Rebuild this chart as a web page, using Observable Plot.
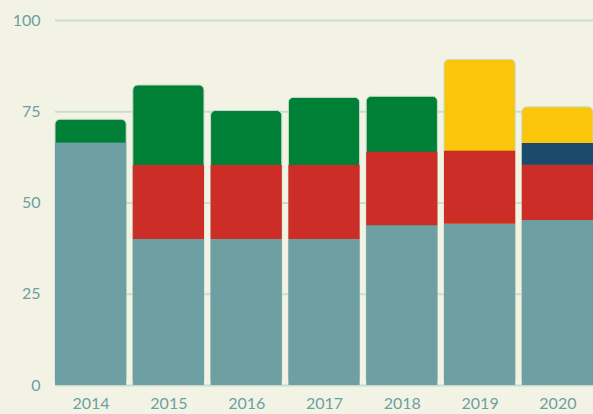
<!DOCTYPE html>
<html>
<head>
<meta charset="utf-8">
<script src="https://cdn.jsdelivr.net/npm/d3@7"></script>
<script src="https://cdn.jsdelivr.net/npm/@observablehq/plot@0.6"></script>
<style>
  html, body { margin: 0; padding: 0; background: #f3f3e5; }
  #chart svg { display: block; }
</style>
</head>
<body>
<div id="chart"></div>
<script>
const years = ["2014", "2015", "2016", "2017", "2018", "2019", "2020"];
const seriesNames = ["Series A", "Series B", "Series C", "Series D", "Series E"];
const seriesA = [66.4, 40, 40, 40, 43.8, 44.2, 45.2];
const seriesB = [0, 20.3, 20.3, 20.3, 20.1, 20, 15.1];
const seriesC = [0, 0, 0, 0, 0, 0, 6];
const seriesD = [6.4, 21.9, 14.9, 18.5, 15.2, 0, 0];
const seriesE = [0, 0, 0, 0, 0, 25, 9.9];
const colors = ["#6d9fa3", "#cc2e27", "#1c4a6c", "#008037", "#fbc50c"];
const yTicks = [0, 25, 50, 75, 100];

const seriesValues = [seriesA, seriesB, seriesC, seriesD, seriesE];

// long table
const rows = [];
years.forEach((yr, i) => {
  seriesValues.forEach((vals, s) => {
    if (vals[i] > 0) rows.push({year: yr, series: seriesNames[s], value: vals[i], order: s});
  });
});
// top segment per year (drawn full height with rounded corners, lower segments drawn over it)
const tops = years.map((yr) => {
  const segs = rows.filter(r => r.year === yr);
  const top = segs[segs.length - 1];
  return {year: yr, series: top.series, total: d3.sum(segs, d => d.value)};
});
const lower = rows.filter(r => !tops.some(t => t.year === r.year && t.series === r.series));

const chart = Plot.plot({
  width: 593,
  height: 414,
  marginLeft: 55,
  marginRight: 0,
  marginTop: 20,
  marginBottom: 29,
  style: {background: "#f3f3e5", fontFamily: "Lato, 'Open Sans', sans-serif", fontSize: "16px", color: "#6d9fa3"},
  x: {domain: years, paddingInner: 0.085, paddingOuter: 0, round: false, label: null},
  y: {domain: [0, 100], label: null},
  color: {domain: seriesNames, range: colors},
  marks: [
    Plot.ruleY(yTicks, {stroke: "#c9ddd0", strokeWidth: 2}),
    Plot.barY(tops, {x: "year", y1: 0, y2: "total", fill: "series", rx: 5, stroke: "#c9dcc6", strokeWidth: 1}),
    Plot.barY(lower, Plot.stackY({x: "year", y: "value", fill: "series", order: "order"})),
    Plot.axisX({tickSize: 0, tickPadding: 12, fill: "#6d9fa3", fontSize: 16}),
    Plot.axisY({ticks: yTicks, tickSize: 0, tickPadding: 15, fill: "#6d9fa3", fontSize: 16})
  ]
});
document.getElementById("chart").appendChild(chart);
</script>
</body>
</html>
